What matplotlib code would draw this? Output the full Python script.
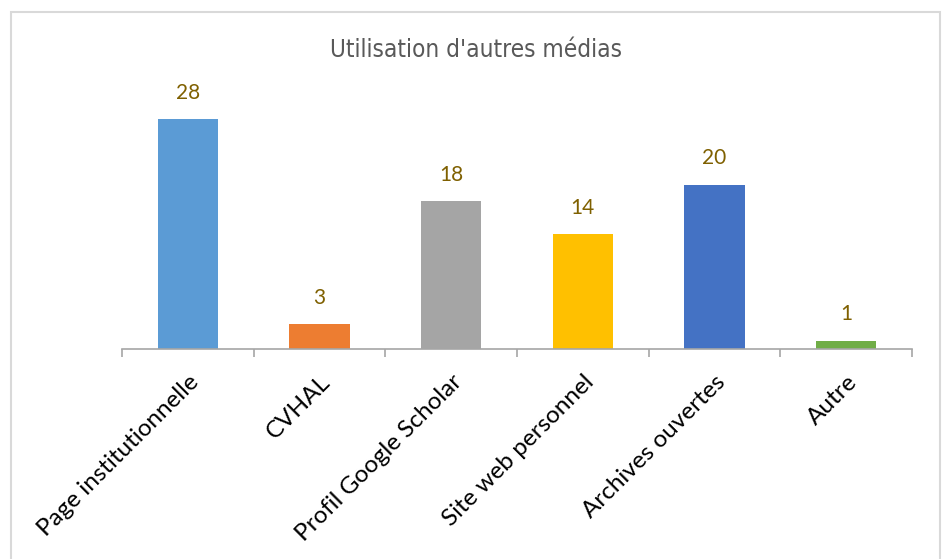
import matplotlib
matplotlib.use('Agg')
import matplotlib.pyplot as plt
from matplotlib.patches import Rectangle
import numpy as np

# data
categories = ['Page institutionnelle', 'CVHAL', 'Profil Google Scholar',
              'Site web personnel', 'Archives ouvertes', 'Autre']
values = [28, 3, 18, 14, 20, 1]
colors = ['#5B9BD5', '#ED7D31', '#A5A5A5', '#FFC000', '#4472C4', '#70AD47']
title = "Utilisation d'autres médias"

W, H = 946, 559
fig = plt.figure(figsize=(W/100, H/100), dpi=100)

# light grey chart frame (bottom edge runs off the picture)
fig.patches.append(Rectangle((11/W, -0.05), (940-11)/W, 1.05-12/H,
                             transform=fig.transFigure, fill=False,
                             edgecolor='#D9D9D9', lw=1.5))

ax = fig.add_axes([122/W, 1-349/H, (912-122)/W, 246/H])
x = np.arange(len(categories))
ax.bar(x, values, width=0.46, color=colors)
ax.set_xlim(-0.5, len(categories)-0.5)
ax.set_ylim(0, 30)

for xi, v in zip(x, values):
    ax.annotate(str(v), (xi, v), xytext=(0, 12), textcoords='offset points',
                ha='center', va='bottom', fontsize=15, color='#7F6000',
                family=['Lato', 'DejaVu Sans'])

for s in ['top', 'right', 'left']:
    ax.spines[s].set_visible(False)
ax.spines['bottom'].set_color('#A6A6A6')
ax.spines['bottom'].set_linewidth(1.2)
ax.set_yticks([])

ax.set_xticks(x)
ax.set_xticklabels(categories, rotation=45, ha='right', rotation_mode='anchor',
                   fontsize=17.5, family=['Lato', 'DejaVu Sans'])
ax.tick_params(axis='x', which='major', length=0, pad=16)
ax.set_xticks(np.arange(len(categories)+1)-0.5, minor=True)
ax.tick_params(axis='x', which='minor', length=6, color='#A6A6A6', width=1.2)

fig.text(476/W, 1-50/H, title, ha='center', va='center', fontsize=17.5,
         color='#595959', family='DejaVu Sans', fontstretch='condensed')

fig.savefig('out.png', dpi=100)
